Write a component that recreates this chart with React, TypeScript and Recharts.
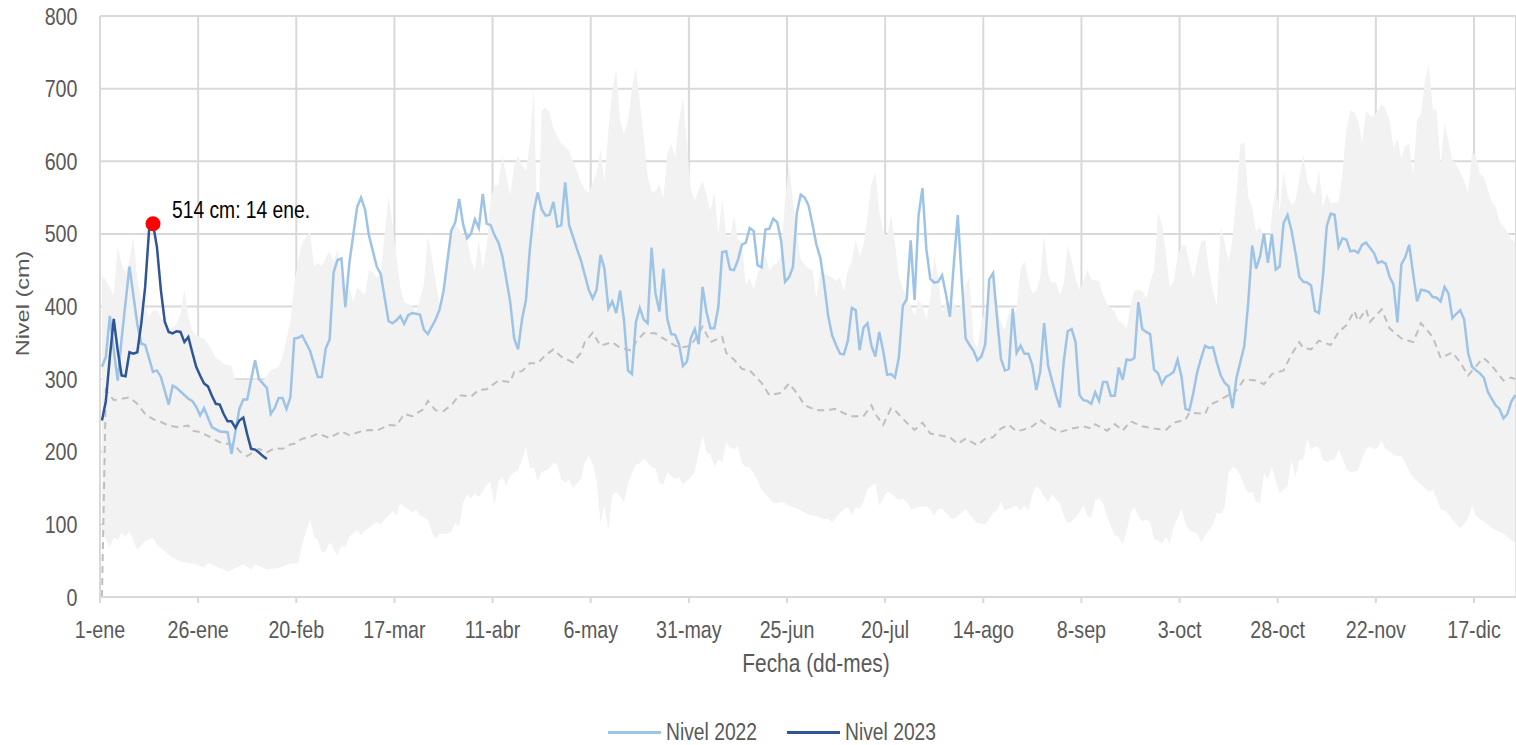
import React from 'react';
import { ComposedChart, Line, Area, XAxis, YAxis, CartesianGrid, ReferenceDot } from 'recharts';

const FONT = "'Liberation Sans', Arial, sans-serif";
const SQ = 0.82; // horizontal squeeze of the text, as in the reference

const tickLabels = ['1-ene', '26-ene', '20-feb', '17-mar', '11-abr', '6-may', '31-may', '25-jun', '20-jul', '14-ago', '8-sep', '3-oct', '28-oct', '22-nov', '17-dic'];
const yTicks = [0, 100, 200, 300, 400, 500, 600, 700, 800];

// [día del año (0 = 1-ene), nivel cm]
const nivel2022: [number, number][] = [[0,317],[1,331],[2,387],[3,340],[4,298],[5,355],[7,455],[9,376],[10,349],[11,347],[13,310],[14,312],[15,303],[17,265],[18,291],[19,288],[22,273],[23,270],[24,262],[25,250],[26,260],[28,234],[30,228],[32,227],[33,197],[35,259],[36,272],[37,272],[39,326],[40,300],[42,288],[43,252],[44,260],[45,274],[46,274],[47,259],[48,275],[49,356],[50,357],[51,360],[53,339],[55,303],[56,303],[57,342],[58,355],[59,447],[60,464],[61,466],[62,399],[63,459],[65,537],[66,550],[67,534],[68,498],[70,455],[71,445],[73,380],[74,377],[75,381],[76,387],[77,376],[78,388],[79,391],[81,389],[82,368],[83,362],[85,382],[86,396],[87,421],[89,505],[90,516],[91,548],[92,513],[93,494],[94,500],[95,520],[96,508],[97,555],[98,514],[99,512],[100,498],[101,488],[102,469],[104,406],[105,356],[106,341],[107,382],[108,409],[109,479],[110,531],[111,557],[112,534],[113,525],[114,526],[115,544],[116,510],[117,512],[118,571],[119,512],[120,496],[121,479],[122,464],[124,423],[125,411],[126,423],[127,471],[128,452],[129,397],[130,407],[131,391],[132,422],[133,380],[134,312],[135,307],[136,378],[137,398],[138,382],[139,377],[140,481],[141,418],[142,393],[143,452],[144,383],[145,362],[146,361],[147,348],[148,318],[149,324],[150,356],[151,369],[152,348],[153,427],[154,392],[155,370],[156,370],[157,399],[158,475],[159,476],[160,451],[161,450],[162,464],[163,485],[164,488],[165,508],[166,504],[167,457],[168,454],[169,506],[170,507],[171,521],[172,516],[173,491],[174,434],[175,440],[176,454],[177,529],[178,554],[179,550],[180,539],[181,513],[182,485],[183,467],[184,430],[185,387],[186,360],[187,347],[188,335],[189,334],[190,353],[191,398],[192,395],[193,340],[194,371],[195,377],[196,346],[197,331],[198,365],[199,339],[200,306],[201,307],[202,302],[203,330],[204,401],[205,410],[206,491],[207,409],[208,525],[209,563],[210,479],[211,438],[212,433],[213,434],[214,443],[215,417],[216,386],[217,459],[218,526],[219,438],[220,356],[221,347],[222,339],[223,326],[224,331],[225,348],[226,437],[227,446],[228,385],[229,328],[230,312],[231,314],[232,397],[233,336],[234,346],[235,335],[236,335],[237,319],[238,285],[239,310],[240,377],[241,319],[242,298],[243,278],[244,261],[245,324],[246,366],[247,369],[248,351],[249,278],[250,271],[251,270],[252,266],[253,282],[254,270],[255,296],[256,296],[257,277],[258,277],[259,316],[260,299],[261,327],[262,326],[263,329],[264,406],[265,369],[266,365],[267,362],[268,313],[269,308],[270,293],[271,303],[272,306],[273,310],[274,327],[275,303],[276,259],[277,257],[278,281],[279,310],[280,329],[281,346],[282,343],[283,344],[284,323],[285,305],[286,295],[287,290],[288,260],[289,302],[291,346],[292,406],[293,484],[294,452],[295,469],[296,500],[297,460],[298,500],[299,451],[300,455],[301,515],[302,526],[303,505],[304,475],[305,441],[306,434],[307,433],[308,429],[309,394],[310,391],[311,440],[312,511],[313,528],[314,526],[315,482],[316,494],[317,492],[318,476],[319,477],[320,474],[321,485],[322,488],[323,481],[324,474],[325,460],[326,462],[327,459],[328,441],[329,430],[330,378],[331,458],[332,468],[333,485],[334,445],[335,407],[336,423],[337,422],[338,420],[339,413],[340,412],[341,407],[342,427],[343,418],[344,384],[345,390],[346,395],[347,382],[348,336],[349,317],[350,312],[351,308],[352,302],[353,283],[354,273],[355,264],[356,259],[357,246],[358,252],[359,269],[360,278]];

const nivel2023: [number, number][] = [[0,243],[1,270],[2,330],[3,383],[4,340],[5,305],[6,304],[7,337],[8,335],[9,337],[10,376],[11,427],[12,505],[13,514],[14,482],[15,423],[16,379],[17,365],[18,363],[19,366],[20,365],[21,351],[22,358],[23,337],[24,317],[25,305],[26,294],[27,290],[28,277],[29,266],[30,265],[31,252],[32,242],[33,242],[34,233],[35,243],[36,247],[37,224],[38,204],[39,203],[40,199],[41,194],[42,190]];

const nivelMaximo: [number, number][] = [[0,443],[1,436],[2,425],[3,416],[4,482],[5,459],[6,446],[7,464],[8,496],[9,436],[10,411],[11,400],[12,386],[13,395],[14,395],[16,376],[17,367],[19,376],[20,390],[21,423],[22,386],[23,367],[24,360],[26,356],[28,340],[29,330],[31,321],[33,318],[34,298],[36,298],[38,298],[39,300],[41,298],[43,312],[45,317],[46,330],[48,380],[49,431],[50,464],[51,488],[53,503],[54,455],[55,460],[56,455],[57,467],[58,476],[59,462],[60,479],[62,401],[63,426],[64,406],[65,426],[66,421],[67,416],[68,450],[69,447],[70,440],[71,445],[72,498],[73,551],[74,513],[75,469],[76,426],[77,406],[79,401],[80,392],[81,411],[82,430],[83,498],[84,469],[85,435],[86,401],[87,421],[89,508],[90,513],[92,498],[93,493],[94,464],[95,450],[96,493],[97,450],[98,484],[99,546],[100,566],[101,568],[102,607],[103,580],[104,554],[105,595],[106,607],[107,595],[108,587],[109,624],[110,701],[111,490],[112,670],[113,674],[114,667],[115,645],[117,624],[118,620],[119,614],[120,600],[121,587],[122,571],[123,561],[124,556],[126,585],[127,616],[128,571],[129,643],[130,696],[131,728],[132,655],[133,638],[134,655],[135,701],[136,728],[137,682],[138,633],[139,580],[140,557],[141,559],[142,568],[143,549],[144,609],[145,624],[146,604],[147,655],[148,689],[149,624],[150,561],[151,546],[152,561],[153,573],[154,554],[155,532],[156,558],[157,500],[158,549],[159,498],[160,496],[161,525],[162,493],[163,488],[164,430],[165,440],[166,423],[167,445],[169,471],[170,450],[171,457],[172,460],[173,469],[174,546],[175,597],[176,546],[177,503],[178,464],[180,452],[181,450],[182,411],[183,450],[184,445],[186,440],[187,435],[188,440],[189,421],[190,450],[191,462],[192,491],[193,469],[194,484],[195,522],[196,568],[197,585],[198,532],[199,503],[200,496],[201,527],[202,488],[203,440],[205,411],[206,401],[207,387],[208,409],[209,401],[210,382],[211,411],[212,471],[213,440],[214,392],[215,406],[216,404],[217,406],[218,394],[219,404],[220,430],[221,440],[222,353],[223,343],[224,380],[225,392],[226,426],[227,440],[228,401],[229,377],[230,368],[231,392],[232,387],[233,397],[234,452],[235,462],[236,435],[237,418],[238,421],[239,440],[240,498],[241,445],[242,433],[243,433],[244,416],[245,430],[246,484],[247,464],[248,440],[249,423],[250,435],[251,450],[252,438],[253,436],[254,435],[255,416],[256,404],[258,392],[259,380],[260,377],[261,370],[262,401],[263,421],[264,423],[265,421],[266,411],[267,433],[268,450],[269,529],[270,513],[271,474],[272,425],[273,435],[274,469],[275,484],[276,484],[277,459],[278,438],[279,464],[280,488],[281,493],[282,450],[283,421],[284,401],[285,510],[286,488],[287,462],[288,493],[289,556],[290,624],[291,625],[292,551],[293,537],[294,503],[295,510],[296,493],[297,459],[298,527],[299,563],[300,532],[301,585],[302,554],[303,540],[304,545],[305,575],[306,609],[307,573],[308,560],[309,554],[310,589],[311,537],[312,556],[313,542],[315,544],[316,585],[317,643],[318,670],[319,667],[320,655],[321,624],[322,670],[323,662],[324,662],[325,670],[326,679],[327,672],[328,655],[329,619],[330,631],[331,604],[332,621],[333,624],[334,580],[335,657],[336,665],[337,711],[338,732],[339,672],[340,670],[341,595],[342,652],[343,628],[344,602],[345,595],[346,585],[347,573],[348,556],[349,613],[350,607],[351,583],[352,578],[353,561],[354,544],[355,537],[356,517],[358,503],[359,493],[360,488]];

const nivelMinimo: [number, number][] = [[0,95],[1,79],[2,68],[3,82],[4,79],[5,88],[6,82],[7,91],[8,77],[9,65],[11,77],[13,82],[14,72],[16,63],[18,54],[20,49],[22,47],[24,45],[26,40],[27,47],[29,42],[31,38],[32,35],[34,40],[36,45],[38,38],[39,45],[42,38],[45,40],[46,42],[48,46],[50,46],[51,73],[53,107],[54,83],[55,78],[56,61],[57,63],[58,75],[59,66],[60,58],[61,71],[62,68],[63,83],[65,92],[66,85],[67,92],[68,95],[69,100],[70,103],[71,100],[72,107],[73,112],[74,119],[75,112],[76,129],[77,124],[78,121],[79,116],[80,120],[81,112],[83,107],[84,90],[85,80],[86,87],[87,87],[88,87],[89,90],[90,102],[91,97],[92,129],[93,141],[94,136],[95,143],[96,138],[97,145],[98,155],[99,158],[100,126],[101,160],[102,165],[103,153],[104,167],[105,172],[106,174],[107,189],[108,208],[109,177],[110,179],[111,160],[112,172],[113,174],[114,177],[115,185],[116,182],[117,162],[118,157],[119,162],[120,150],[122,162],[123,186],[124,194],[125,184],[126,160],[127,102],[128,126],[129,92],[130,141],[131,145],[132,138],[133,131],[134,157],[135,170],[136,182],[137,184],[138,191],[140,179],[141,177],[142,157],[143,155],[144,172],[145,167],[146,162],[147,165],[148,155],[149,160],[150,165],[151,172],[152,199],[153,223],[154,199],[155,196],[156,179],[157,189],[158,186],[159,213],[160,206],[161,203],[162,208],[163,184],[164,179],[165,179],[166,170],[167,160],[168,148],[169,141],[170,136],[171,129],[172,129],[173,131],[174,129],[176,124],[177,121],[178,119],[179,116],[180,114],[181,112],[182,112],[183,109],[184,107],[185,108],[186,103],[187,109],[188,116],[189,121],[190,124],[191,112],[192,124],[193,121],[194,131],[195,148],[196,153],[197,157],[198,126],[199,136],[200,145],[201,143],[202,138],[203,133],[204,136],[205,131],[206,121],[207,122],[208,124],[210,125],[211,121],[212,112],[213,121],[214,121],[215,116],[216,109],[217,107],[218,112],[219,116],[220,121],[221,114],[222,107],[223,102],[225,100],[226,107],[227,116],[228,119],[229,131],[230,119],[231,121],[232,124],[233,126],[234,119],[235,126],[236,119],[237,141],[238,153],[239,148],[240,138],[241,131],[242,141],[244,129],[245,112],[246,102],[247,104],[248,109],[249,116],[250,126],[251,112],[252,109],[253,133],[254,136],[255,129],[256,112],[257,97],[258,85],[259,83],[260,73],[261,90],[262,116],[263,124],[264,112],[265,104],[266,107],[267,103],[268,80],[269,78],[270,73],[271,83],[272,73],[273,97],[274,109],[275,121],[276,102],[277,92],[278,90],[279,87],[280,75],[281,85],[282,92],[283,100],[284,116],[285,114],[286,124],[287,172],[288,179],[289,177],[290,167],[291,153],[292,143],[293,145],[294,131],[295,129],[296,170],[297,162],[298,179],[299,160],[300,143],[301,148],[302,153],[303,189],[304,165],[305,189],[306,189],[307,218],[308,203],[309,208],[310,206],[311,189],[312,186],[313,189],[314,189],[315,203],[316,191],[317,177],[318,172],[320,174],[321,191],[322,203],[323,208],[324,203],[325,206],[326,215],[327,203],[328,201],[329,196],[330,194],[331,194],[332,184],[333,174],[334,165],[335,160],[337,150],[338,145],[339,148],[340,136],[341,121],[342,119],[343,114],[344,107],[345,100],[346,95],[347,100],[348,109],[349,126],[350,112],[351,107],[352,104],[353,100],[354,95],[355,92],[356,90],[357,87],[358,83],[359,78],[360,75]];

const nivelMedio: [number, number][] = [[0,0],[1,285],[3,271],[5,273],[7,275],[9,266],[11,252],[13,245],[15,241],[17,236],[19,234],[22,236],[23,229],[25,227],[28,219],[30,213],[32,211],[34,208],[35,201],[37,194],[39,201],[40,204],[42,199],[44,205],[46,204],[48,210],[49,211],[51,218],[53,220],[55,225],[58,219],[61,228],[63,223],[66,228],[68,230],[70,229],[73,237],[75,236],[77,252],[79,249],[82,259],[83,270],[85,257],[87,256],[89,264],[91,278],[94,276],[96,285],[98,286],[99,290],[101,298],[104,296],[105,310],[107,311],[109,322],[111,322],[113,333],[115,341],[117,331],[120,323],[122,336],[123,351],[125,364],[127,346],[130,351],[132,343],[135,339],[136,351],[138,363],[141,363],[143,356],[146,346],[148,344],[150,346],[152,363],[153,372],[155,351],[158,358],[159,336],[161,327],[163,314],[165,312],[168,295],[170,278],[173,281],[175,294],[177,281],[179,264],[182,257],[184,257],[187,259],[189,253],[191,249],[194,249],[196,264],[197,252],[199,237],[201,260],[202,257],[205,240],[207,230],[209,240],[211,225],[214,222],[216,220],[218,211],[220,218],[223,209],[225,218],[227,220],[229,232],[231,237],[233,228],[235,231],[237,235],[239,244],[241,235],[244,227],[247,232],[250,235],[252,232],[253,238],[256,229],[258,238],[260,229],[262,242],[265,235],[268,232],[271,230],[273,240],[276,244],[277,254],[281,252],[282,264],[284,269],[287,278],[288,277],[291,300],[294,298],[296,293],[298,307],[301,312],[303,334],[305,351],[306,343],[308,341],[310,353],[313,347],[315,365],[317,374],[319,394],[320,380],[322,396],[323,379],[326,396],[328,370],[331,356],[334,351],[336,377],[339,358],[341,329],[344,337],[346,323],[348,305],[351,324],[352,329],[354,319],[357,298],[359,302],[360,300]];

const pico = { dia: 13, nivel: 514, texto: '514 cm: 14 ene.' };

const LAST_DAY = 360;

type Row = { d: number; max?: number; min?: number; medio?: number; n2022?: number; n2023?: number };
const rows: Row[] = [];
for (let d = 0; d <= LAST_DAY; d++) rows.push({ d });
const put = (series: [number, number][], key: keyof Row) => {
  series.forEach(([d, v]) => {
    (rows[d] as any)[key] = v;
  });
};
put(nivelMaximo, 'max');
put(nivelMinimo, 'min');
put(nivelMedio, 'medio');
put(nivel2022, 'n2022');
put(nivel2023, 'n2023');

const xTicks = tickLabels.map((_, i) => i * 25 - 0.5);

const SqText = ({ x, y, size, anchor, fill = '#595959', children }: any) => (
  <text transform={`translate(${x},${y}) scale(${SQ},1)`} x={0} y={0} textAnchor={anchor} fontSize={size} fill={fill} fontFamily={FONT}>
    {children}
  </text>
);

const XTick = (props: any) => {
  const { x, y, payload } = props;
  const label = tickLabels[Math.round((payload.value + 0.5) / 25)];
  return <SqText x={x} y={y + 35} size={24} anchor="middle">{label}</SqText>;
};

const YTick = (props: any) => {
  const { x, y, payload } = props;
  return <SqText x={x} y={y + 8.6} size={24} anchor="end">{payload.value}</SqText>;
};

const PeakShape = (props: any) => {
  const { cx, cy } = props;
  if (cx == null || cy == null) return null;
  return (
    <g>
      <circle cx={cx} cy={cy} r={7.5} fill="#ff0000" />
      <SqText x={cx + 19} y={cy - 6} size={23.5} anchor="start" fill="#000000">{pico.texto}</SqText>
    </g>
  );
};

const legendItems = [
  { name: 'Nivel 2022', color: '#9dc3e6', left: 608 },
  { name: 'Nivel 2023', color: '#2f5597', left: 787 },
];

export default function App() {
  return (
    <div style={{ position: 'absolute', left: 0, top: 0, width: 1516, height: 745, background: '#fff', fontFamily: FONT, overflow: 'hidden' }}>
      <ComposedChart width={1516} height={745} data={rows} margin={{ top: 16, right: 0, bottom: 0, left: 0 }}>
        <CartesianGrid stroke="#d9d9d9" strokeWidth={2} />
        <Area type="linear" dataKey="max" stroke="none" fill="#f2f2f2" fillOpacity={1} connectNulls isAnimationActive={false} dot={false} activeDot={false} />
        <Area type="linear" dataKey="min" stroke="none" fill="#ffffff" fillOpacity={1} connectNulls isAnimationActive={false} dot={false} activeDot={false} />
        <Line type="linear" dataKey="medio" stroke="#bfbfbf" strokeWidth={2} strokeDasharray="7 5" dot={false} activeDot={false} connectNulls isAnimationActive={false} />
        <Line type="linear" dataKey="n2022" stroke="#9dc3e6" strokeWidth={2.5} dot={false} activeDot={false} connectNulls isAnimationActive={false} />
        <Line type="linear" dataKey="n2023" stroke="#2f5597" strokeWidth={2.5} dot={false} activeDot={false} connectNulls isAnimationActive={false} />
        <ReferenceDot x={pico.dia} y={pico.nivel} r={7.5} shape={PeakShape} />
        <XAxis
          type="number"
          dataKey="d"
          domain={[-0.5, 360.2]}
          allowDataOverflow
          ticks={xTicks}
          interval={0}
          height={148}
          tick={<XTick />}
          tickLine={{ stroke: '#d9d9d9', strokeWidth: 2 }}
          tickSize={6}
          tickMargin={0}
          axisLine={{ stroke: '#d9d9d9', strokeWidth: 2 }}
          label={{
            content: (p: any) => {
              const vb = p.viewBox || {};
              return <SqText x={vb.x + vb.width / 2 + 8} y={vb.y + 75} size={25.5} anchor="middle">Fecha (dd-mes)</SqText>;
            },
          }}
        />
        <YAxis
          type="number"
          domain={[0, 800]}
          ticks={yTicks}
          interval={0}
          width={100}
          tickLine={false}
          tickSize={0}
          tickMargin={22.5}
          tick={<YTick />}
          axisLine={{ stroke: '#d9d9d9', strokeWidth: 2 }}
          label={{
            content: (p: any) => {
              const vb = p.viewBox || {};
              const cx = vb.x + 23;
              const cy = vb.y + vb.height / 2 - 3;
              return (
                <text transform={`translate(${cx},${cy}) scale(${SQ},1) rotate(-90)`} x={0} y={0} textAnchor="middle" dominantBaseline="central" fontSize={23.5} fill="#595959" fontFamily={FONT}>
                  Nivel (cm)
                </text>
              );
            },
          }}
        />
      </ComposedChart>
      {legendItems.map((it) => (
        <div key={it.name} style={{ position: 'absolute', top: 720, left: it.left, height: 24, width: 340 }}>
          <span style={{ position: 'absolute', left: 0, top: 10.5, width: 53, height: 3, background: it.color }} />
          <span style={{ position: 'absolute', left: 58, top: 0, fontSize: 23.5, lineHeight: '24px', color: '#595959', whiteSpace: 'nowrap', transform: `scaleX(${SQ})`, transformOrigin: 'left center' }}>
            {it.name}
          </span>
        </div>
      ))}
    </div>
  );
}
